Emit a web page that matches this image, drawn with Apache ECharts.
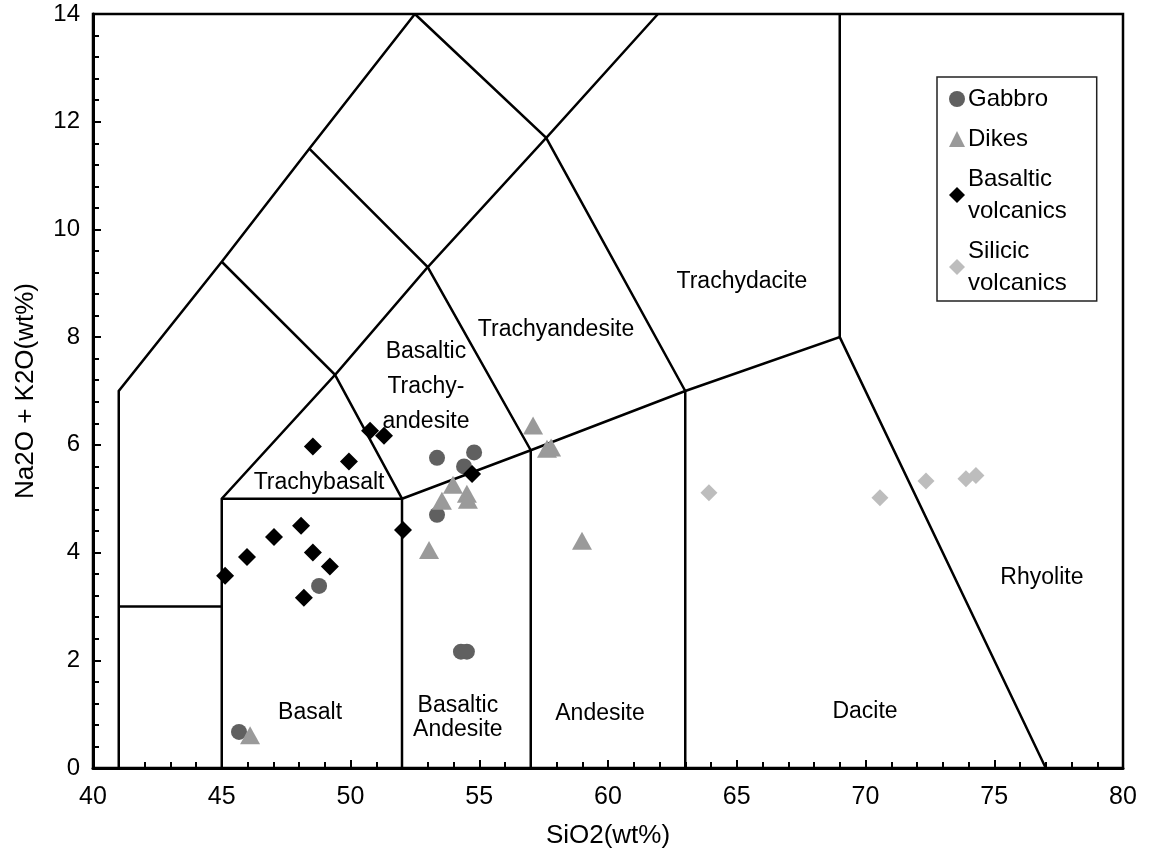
<!DOCTYPE html>
<html>
<head>
<meta charset="utf-8">
<script src="https://cdn.jsdelivr.net/npm/echarts@6/dist/echarts.min.js"></script>
<style>
html,body{margin:0;padding:0;background:#fff;}
#chart{width:1151px;height:862px;}
</style>
</head>
<body>
<div id="chart"></div>
<script>
// ---- Data (SiO2 wt%, Na2O+K2O wt%) ----
const gabbroX = [45.67, 48.78, 53.36, 54.80, 54.41, 53.36, 54.29, 54.52];
const gabbroY = [0.67, 3.38, 5.76, 5.86, 5.60, 4.70, 2.16, 2.16];

const dikesX = [46.10, 53.05, 53.55, 53.98, 54.52, 54.56, 57.09, 57.63, 57.79, 58.99];
const dikesY = [0.61, 4.05, 4.96, 5.26, 5.09, 4.98, 6.36, 5.93, 5.95, 4.22];

const basalticX = [45.13, 45.98, 47.03, 48.08, 48.54, 49.20, 48.19, 48.54, 49.94, 50.76, 51.30, 52.04, 54.72];
const basalticY = [3.57, 3.92, 4.29, 4.50, 4.00, 3.74, 3.16, 5.97, 5.69, 6.26, 6.17, 4.42, 5.46];

const silicicX = [63.92, 70.56, 72.35, 73.90, 74.29];
const silicicY = [5.11, 5.02, 5.33, 5.37, 5.43];

// TAS classification boundaries (polylines)
const boundaries = [
  [[41, 0], [41, 7], [45, 9.4], [48.4, 11.5], [52.5, 14]],
  [[41, 3], [45, 3]],
  [[45, 0], [45, 5], [49.4, 7.3], [45, 9.4]],
  [[45, 5], [52, 5], [52, 0]],
  [[52, 5], [49.4, 7.3], [53, 9.3], [48.4, 11.5]],
  [[52, 5], [57, 5.9], [63, 7], [69, 8], [77, 0]],
  [[57, 0], [57, 5.9], [53, 9.3], [57.6, 11.7], [52.5, 14]],
  [[63, 0], [63, 7], [57.6, 11.7], [61.94, 14]],
  [[69, 8], [69, 14]]
];

// Field names and their anchor points
const fieldNames = ['Trachybasalt', 'Basalt', 'Basaltic\nAndesite', 'Andesite', 'Dacite', 'Rhyolite',
  'Trachydacite', 'Trachyandesite', 'Basaltic\nTrachy-\nandesite'];
const fieldX = [48.78, 48.43, 54.17, 59.69, 69.98, 76.85, 65.2, 57.98, 52.93];
const fieldY = [5.30, 1.02, 0.94, 1.00, 1.04, 3.53, 9.03, 8.14, 7.08];

const xTicks = { min: 40, max: 80, interval: 5 };
const yTicks = { min: 0, max: 14, interval: 2 };

// ---- Chart ----
const FONT = "'Liberation Sans', Arial, sans-serif";
const zip = (xs, ys) => xs.map((x, i) => [x, ys[i]]);

const chart = echarts.init(document.getElementById('chart'));
const option = {
  backgroundColor: '#fff',
  animation: false,
  grid: { left: 93, right: 28, top: 14, bottom: 94, show: true, borderColor: '#000', borderWidth: 2.5, backgroundColor: 'transparent' },
  legend: {
    orient: 'vertical',
    left: 937,
    top: 77,
    padding: [6, 30, 2, 12],
    itemGap: 8,
    itemWidth: 16,
    itemHeight: 16,
    borderColor: '#222',
    borderWidth: 1.5,
    backgroundColor: '#fff',
    textStyle: { fontFamily: FONT, fontSize: 24, color: '#000', lineHeight: 32, padding: [0, 0, 0, -2] },
    data: [
      { name: 'Gabbro', icon: 'circle' },
      { name: 'Dikes', icon: 'triangle' },
      { name: 'Basaltic\nvolcanics', icon: 'diamond' },
      { name: 'Silicic\nvolcanics', icon: 'diamond' }
    ]
  },
  xAxis: {
    type: 'value',
    min: xTicks.min, max: xTicks.max, interval: xTicks.interval,
    name: 'SiO2(wt%)',
    nameLocation: 'middle',
    nameGap: 55,
    nameTextStyle: { fontFamily: FONT, fontSize: 26, color: '#000' },
    axisLine: { onZero: false, lineStyle: { color: '#000', width: 3 } },
    axisTick: { inside: true, length: 8, lineStyle: { color: '#000', width: 2 } },
    minorTick: { show: true, splitNumber: 5, length: 6, lineStyle: { color: '#000', width: 2 } },
    axisLabel: { fontFamily: FONT, fontSize: 25, color: '#000', margin: 17 },
    splitLine: { show: false }
  },
  yAxis: {
    type: 'value',
    min: yTicks.min, max: yTicks.max, interval: yTicks.interval,
    name: 'Na2O + K2O(wt%)',
    nameLocation: 'middle',
    nameGap: 54,
    nameTextStyle: { fontFamily: FONT, fontSize: 26, color: '#000' },
    axisLine: { onZero: false, lineStyle: { color: '#000', width: 3 } },
    axisTick: { inside: true, length: 8, lineStyle: { color: '#000', width: 2 } },
    minorTick: { show: true, splitNumber: 5, length: 6, lineStyle: { color: '#000', width: 2 } },
    axisLabel: { fontFamily: FONT, fontSize: 24, color: '#000', margin: 13 },
    splitLine: { show: false }
  },
  series: [
    {
      type: 'lines',
      coordinateSystem: 'cartesian2d',
      polyline: true,
      silent: true,
      z: 1,
      lineStyle: { color: '#000', width: 2.5, opacity: 1 },
      data: boundaries.map(c => ({ coords: c }))
    },
    {
      type: 'scatter',
      silent: true,
      z: 2,
      symbolSize: 1,
      itemStyle: { opacity: 0 },
      label: {
        show: true,
        position: 'inside',
        formatter: p => p.name,
        fontFamily: FONT,
        fontSize: 23,
        color: '#000',
        opacity: 1,
        textBorderWidth: 0,
        textBorderColor: 'transparent',
        lineHeight: 24
      },
      data: fieldNames.map((n, i) => ({
        name: n, value: [fieldX[i], fieldY[i]],
        label: n.indexOf('Trachy-') >= 0 ? { lineHeight: 35 } : undefined
      }))
    },
    {
      name: 'Gabbro', type: 'scatter', symbol: 'circle', symbolSize: 16, z: 3,
      itemStyle: { color: '#606060', opacity: 1 },
      data: zip(gabbroX, gabbroY)
    },
    {
      name: 'Dikes', type: 'scatter', symbol: 'triangle', symbolSize: [20, 18], z: 3,
      itemStyle: { color: '#9a9a9a', opacity: 1 },
      data: zip(dikesX, dikesY)
    },
    {
      name: 'Basaltic\nvolcanics', type: 'scatter', symbol: 'diamond', symbolSize: 18, z: 4,
      itemStyle: { color: '#000', opacity: 1 },
      data: zip(basalticX, basalticY)
    },
    {
      name: 'Silicic\nvolcanics', type: 'scatter', symbol: 'diamond', symbolSize: 17, z: 3,
      itemStyle: { color: '#bdbdbd', opacity: 1 },
      data: zip(silicicX, silicicY)
    }
  ]
};
chart.setOption(option);
</script>
</body>
</html>
